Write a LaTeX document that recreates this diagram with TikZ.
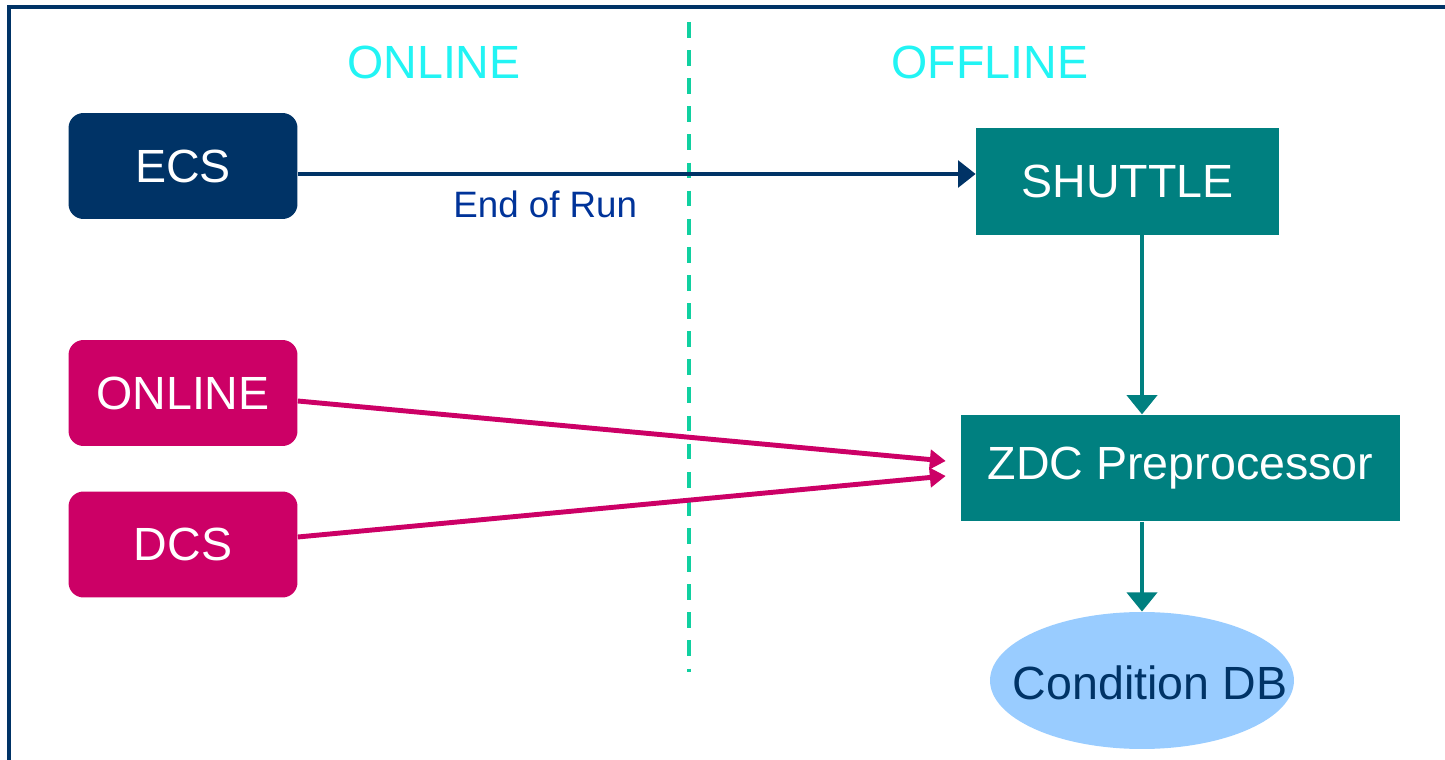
\documentclass[tikz,border=0pt]{standalone}
\usepackage{fontspec}
\setmainfont{Liberation Sans}
\usetikzlibrary{calc,arrows.meta,shapes.geometric}
\definecolor{navy}{HTML}{003366}
\definecolor{tealbox}{HTML}{008080}
\definecolor{magbox}{HTML}{CC0066}
\definecolor{dbblue}{HTML}{99CCFF}
\definecolor{headcyan}{HTML}{22F4F4}
\definecolor{runblue}{HTML}{003399}
\definecolor{sepgreen}{HTML}{10D0A0}
\tikzset{
	srcbox/.style={rounded corners=0.3cm, minimum width=4.58cm, minimum height=2.12cm, text=white, font=\fontsize{26.5}{30}\selectfont},
	offbox/.style={fill=tealbox, minimum height=2.13cm, text=white, font=\fontsize{26.5}{30}\selectfont},
	flow/.style={line width=2.8pt, -{Triangle[width=11pt,length=9pt]}},
}

\begin{document}
\begin{tikzpicture}[x=0.02cm, y=-0.02cm]
			% The picture is laid out in pixel units, the frame of the slide runs along the top and the left side only
			\useasboundingbox (0,0) rectangle (1445,760);
			\draw[navy, line width=2.2pt] (9,760) -- (9,7) -- (1445,7);

			% The dashed line splits the online side from the offline side, each with its heading
			\draw[sepgreen, line width=2.3pt, dash pattern=on 9pt off 7pt] (689,22) -- (689,672);
			\node[headcyan, font=\fontsize{26.5}{30}\selectfont] (onhead) at (434,62) {ONLINE};
			\node[headcyan, font=\fontsize{26.5}{30}\selectfont] (offhead) at (990,62) {OFFLINE};

			% The three sources on the online side
			\node[srcbox, fill=navy] (ecs) at (183,166) {ECS};
			\node[srcbox, fill=magbox] (online) at (183,393) {ONLINE};
			\node[srcbox, fill=magbox] (dcs) at (183,544.5) {DCS};

			% The offline chain: shuttle, preprocessor and the condition data base
			\node[offbox, minimum width=6.06cm] (shuttle) at (1127.5,181.5) {SHUTTLE};
			\node[offbox, minimum width=8.78cm] (zdc) at (1180.5,468) {ZDC Preprocessor};
			\node[ellipse, fill=dbblue, inner sep=0pt, minimum width=6.08cm, minimum height=2.74cm] (cdb) at (1142,680.5) {};
			\node[text=navy, font=\fontsize{26.5}{30}\selectfont] (cdbtext) at (1150,683) {Condition DB};

			% End of run signal from ECS to the shuttle
			\draw[flow, navy, -{Triangle[width=15pt,length=10pt]}] ($(ecs.east)+(0,8)$) -- ($(shuttle.west)+(0,-7.5)$)
				node[pos=0.365, below=5pt, runblue, font=\fontsize{20.9}{24}\selectfont] (eor) {End of Run};

			% Online and DCS data into the preprocessor
			\draw[flow, magbox] ($(online.east)+(0,8)$) -- ($(zdc.west)+(-15,-7)$);
			\draw[flow, magbox] ($(dcs.east)+(0,-7.5)$) -- ($(zdc.west)+(-15,8)$);

			% The teal arrows down the offline chain
			\draw[flow, tealbox, -{Triangle[width=17pt,length=11pt]}] (shuttle.south -| cdb.north) -- (zdc.north -| cdb.north);
			\draw[flow, tealbox, -{Triangle[width=17pt,length=11pt]}] (zdc.south -| cdb.north) -- (cdb.north);
	\end{tikzpicture}
\end{document}
